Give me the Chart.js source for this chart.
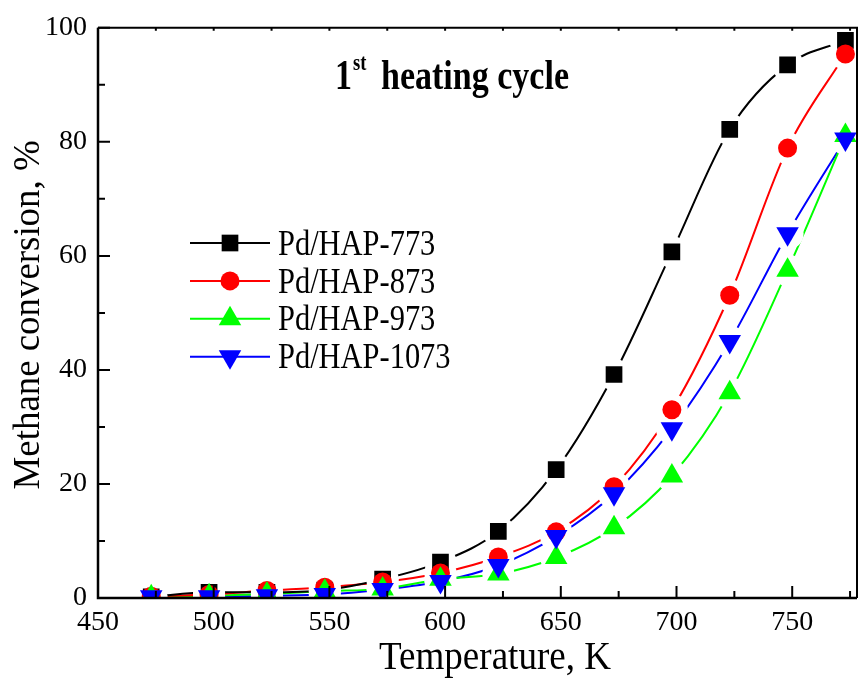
<!DOCTYPE html>
<html>
<head>
<meta charset="utf-8">
<title>Methane conversion, 1st heating cycle</title>
<script src="https://cdn.jsdelivr.net/npm/chart.js"></script>
<style>
  html, body { margin: 0; padding: 0; background: #fff; overflow: hidden; }
  #wrap { position: relative; width: 870px; height: 682px; }
</style>
</head>
<body>
<div id="wrap"><canvas id="conv" width="870" height="682"></canvas></div>
<script>
// --- DATA ---
const temperatures = [473, 498, 523, 548, 573, 598, 623, 648, 673, 698, 723, 748, 773];
const hap773  = [0.2, 1.0, 1.0, 1.4, 3.3, 6.3, 11.7, 22.5, 39.2, 60.7, 82.2, 93.5, 97.8];
const hap873  = [0.3, 0.6, 1.3, 1.9, 2.8, 4.4, 7.2, 11.6, 19.5, 33.0, 53.1, 78.9, 95.4];
const hap973  = [0.2, 0.4, 0.7, 1.2, 1.6, 3.3, 4.2, 7.1, 12.3, 21.4, 36.0, 57.5, 81.1];
const hap1073 = [0.2, 0.2, 0.4, 0.6, 1.5, 2.9, 5.7, 10.8, 18.3, 29.7, 45.0, 63.9, 80.5];
const xTicks = [450, 500, 550, 600, 650, 700, 750];
const yTicks = [0, 20, 40, 60, 80, 100];

const SERIF = "'Liberation Serif', 'Times New Roman', serif";

const series = [
    { label: 'Pd/HAP-773',  data: hap773,  color: '#000000', style: 'rect',     radius: 11.8, rotation: 0 },
    { label: 'Pd/HAP-873',  data: hap873,  color: '#ff0000', style: 'circle',   radius: 9.5,  rotation: 0 },
    { label: 'Pd/HAP-973',  data: hap973,  color: '#00ff00', style: 'triangle', radius: 13,   rotation: 0 },
    { label: 'Pd/HAP-1073', data: hap1073, color: '#0000ff', style: 'triangle', radius: 13,   rotation: 180 }
];

// narrow serif text, like the original plotting program
function condensedText(ctx, text, x, y, sx) {
    ctx.save();
    ctx.translate(x, y);
    ctx.scale(sx, 1);
    ctx.fillText(text, 0, 0);
    ctx.restore();
}

function symbol(ctx, s, x, y) {
    ctx.fillStyle = s.color;
    Chart.helpers.drawPoint(ctx, {
        pointStyle: s.style, radius: s.radius, rotation: s.rotation, borderWidth: 0
    }, x, y);
}

// --- DATASETS: smooth line + symbols for every sample ---
const datasets = [];
const symbolSets = [];
series.forEach((s, i) => {
    const xy = () => temperatures.map((t, k) => ({ x: t, y: s.data[k] }));
    datasets.push({
        data: xy(), borderColor: s.color, borderWidth: 2, pointRadius: 0,
        cubicInterpolationMode: 'monotone', fill: false
    });
    symbolSets.push(datasets.length);
    datasets.push({
        label: s.label, data: xy(), showLine: false, pointStyle: s.style,
        pointRadius: s.radius, pointRotation: s.rotation,
        pointBackgroundColor: s.color, pointBorderWidth: 0
    });
});

// white gap round each symbol, then the symbols on top (black first, blue last)
const gaps = {
    id: 'gaps',
    afterDraw(chart) {
        const { ctx, chartArea: a } = chart;
        ctx.save();
        ctx.beginPath();
        ctx.rect(a.left, a.top, a.right - a.left, a.bottom - a.top);
        ctx.clip();
        ctx.fillStyle = '#ffffff';
        symbolSets.forEach(idx => {
            chart.getDatasetMeta(idx).data.forEach(pt => {
                ctx.beginPath();
                ctx.arc(pt.x, pt.y, 16, 0, Math.PI * 2);
                ctx.fill();
            });
        });
        symbolSets.forEach((idx, i) => {
            chart.getDatasetMeta(idx).data.forEach(pt => symbol(ctx, series[i], pt.x, pt.y));
        });
        ctx.restore();
    }
};

// --- AXES FRAME + INWARD TICKS ---
const frame = {
    id: 'frame',
    afterDraw(chart) {
        const { ctx, chartArea: a, scales: { x, y } } = chart;
        ctx.save();
        ctx.strokeStyle = '#000';
        ctx.lineWidth = 2.5;
        ctx.beginPath();
        ctx.moveTo(a.left, a.top);
        ctx.lineTo(a.left, a.bottom);
        ctx.lineTo(a.right, a.bottom);
        ctx.stroke();
        ctx.lineWidth = 2;
        ctx.beginPath();
        ctx.moveTo(a.left, a.top);
        ctx.lineTo(a.right, a.top);
        ctx.lineTo(a.right, a.bottom);
        ctx.stroke();

        ctx.lineWidth = 2;
        ctx.beginPath();
        for (let v = x.min; v <= x.max; v += 25) {
            const px = x.getPixelForValue(v);
            const len = (v % 50 === 0) ? 12 : 7;
            ctx.moveTo(px, a.bottom);
            ctx.lineTo(px, a.bottom - len);
            ctx.moveTo(px, a.top);
            ctx.lineTo(px, a.top + 3);
        }
        for (let v = y.min; v <= y.max; v += 10) {
            const py = y.getPixelForValue(v);
            const len = (v % 20 === 0) ? 12 : 7;
            ctx.moveTo(a.left, py);
            ctx.lineTo(a.left + len, py);
        }
        ctx.stroke();
        ctx.restore();
    }
};

// --- AXIS TITLES, LEGEND, CAPTION ---
const labels = {
    id: 'labels',
    afterDraw(chart) {
        const ctx = chart.ctx;
        const a = chart.chartArea;
        ctx.save();
        ctx.fillStyle = '#000';
        ctx.textBaseline = 'alphabetic';

        // x title
        ctx.font = '39px ' + SERIF;
        ctx.textAlign = 'center';
        condensedText(ctx, 'Temperature, K', 495, 669, 0.95);

        // y title
        ctx.save();
        ctx.translate(38.5, (a.top + a.bottom) / 2 + 2);
        ctx.rotate(-Math.PI / 2);
        ctx.font = '38px ' + SERIF;
        condensedText(ctx, 'Methane conversion, %', 0, 0, 0.97);
        ctx.restore();

        // caption
        ctx.textAlign = 'left';
        ctx.font = 'bold 42px ' + SERIF;
        condensedText(ctx, '1', 335, 89, 0.81);
        ctx.font = 'bold 23px ' + SERIF;
        condensedText(ctx, 'st', 353, 70, 0.81);
        ctx.font = 'bold 42px ' + SERIF;
        condensedText(ctx, 'heating cycle', 381, 89, 0.81);

        // legend
        ctx.font = '35px ' + SERIF;
        series.forEach((s, i) => {
            const rowY = 243 + i * 37.9;
            ctx.strokeStyle = s.color;
            ctx.lineWidth = 2;
            ctx.beginPath();
            ctx.moveTo(190, rowY);
            ctx.lineTo(270, rowY);
            ctx.stroke();
            symbol(ctx, s, 230, rowY);
            ctx.fillStyle = '#000';
            condensedText(ctx, s.label, 278, rowY + 11.6, 0.87);
        });
        ctx.restore();
    }
};

const tickFont = { family: SERIF, size: 28 };

new Chart(document.getElementById('conv'), {
    type: 'line',
    data: { datasets },
    options: {
        responsive: false,
        devicePixelRatio: 1,
        animation: false,
        events: [],
        layout: { padding: { left: 0, right: 6.5, top: 26, bottom: 0 } },
        plugins: { legend: { display: false }, tooltip: { enabled: false } },
        scales: {
            x: {
                type: 'linear', min: 450, max: 778,
                grid: { display: false, drawTicks: false },
                border: { display: false },
                afterBuildTicks: s => { s.ticks = xTicks.map(v => ({ value: v })); },
                afterFit: s => { s.height = 84; },
                ticks: { font: tickFont, color: '#000', padding: 8, maxRotation: 0 }
            },
            y: {
                min: 0, max: 100,
                grid: { display: false, drawTicks: false },
                border: { display: false },
                afterBuildTicks: s => { s.ticks = yTicks.map(v => ({ value: v })); },
                afterFit: s => { s.width = 98; },
                ticks: { font: tickFont, color: '#000', padding: 11 }
            }
        }
    },
    plugins: [gaps, frame, labels]
});
</script>
</body>
</html>
